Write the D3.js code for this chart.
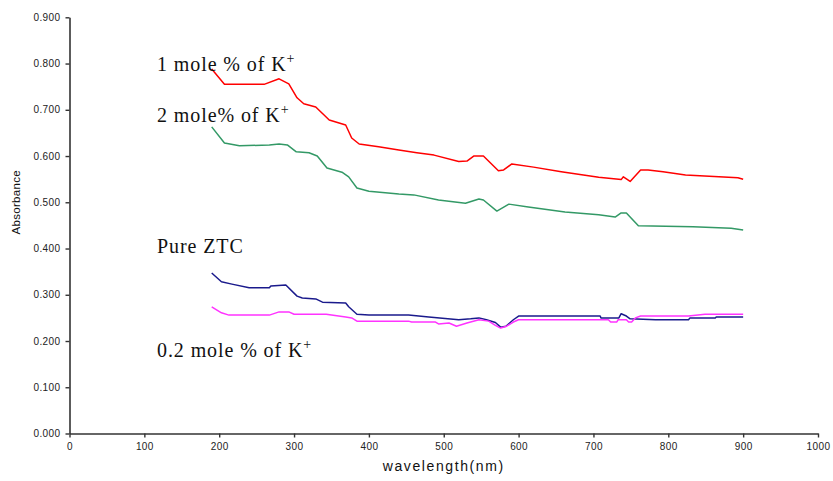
<!DOCTYPE html>
<html>
<head>
<meta charset="utf-8">
<script src="https://cdn.jsdelivr.net/npm/d3@7"></script>
<style>
  html, body { margin: 0; padding: 0; background: #fff; }
  svg { display: block; }
</style>
</head>
<body>
<svg id="chart" width="833" height="481"></svg>
<script>
// ---------- data ----------
const xTicks = [0, 100, 200, 300, 400, 500, 600, 700, 800, 900, 1000];
const yTicks = [0, 0.1, 0.2, 0.3, 0.4, 0.5, 0.6, 0.7, 0.8, 0.9];

const seriesNames = ["1 mole % of K", "2 mole% of K", "Pure ZTC", "0.2 mole % of K"];

const wl1 = [190,207,260,280,293,304,313,329,347,369,377,387,413,440,464,487,520,531,540,553,573,580,591,620,657,707,737,740,749,763,773,793,823,893,900];
const abs1 = [0.788,0.755,0.755,0.767,0.756,0.726,0.713,0.706,0.678,0.667,0.639,0.626,0.620,0.613,0.607,0.602,0.588,0.589,0.600,0.600,0.568,0.570,0.583,0.576,0.566,0.554,0.549,0.555,0.545,0.570,0.570,0.566,0.559,0.553,0.550];

const wl2 = [190,207,227,267,280,291,303,320,331,344,364,373,384,400,440,460,493,529,547,553,571,587,613,662,707,729,737,744,760,833,884,900];
const abs2 = [0.663,0.628,0.622,0.624,0.626,0.624,0.609,0.607,0.600,0.574,0.565,0.555,0.531,0.524,0.518,0.516,0.505,0.498,0.507,0.505,0.481,0.496,0.490,0.479,0.473,0.468,0.477,0.477,0.449,0.447,0.444,0.440];

const wlPure = [190,203,217,240,267,269,289,304,311,329,338,369,373,384,400,453,480,520,536,547,557,569,576,583,593,600,709,710,734,737,744,749,783,827,829,863,864,900];
const absPure = [0.347,0.328,0.323,0.315,0.315,0.319,0.321,0.297,0.293,0.291,0.284,0.282,0.274,0.258,0.256,0.256,0.252,0.246,0.248,0.250,0.246,0.240,0.230,0.232,0.246,0.254,0.254,0.250,0.250,0.259,0.254,0.248,0.246,0.246,0.250,0.250,0.252,0.252];

const wl02 = [190,203,213,267,280,293,300,343,369,377,384,453,457,489,493,507,517,531,547,560,569,576,584,593,600,720,723,731,733,744,747,751,756,763,827,849,900];
const abs02 = [0.274,0.261,0.256,0.256,0.263,0.263,0.258,0.258,0.252,0.250,0.243,0.243,0.241,0.241,0.237,0.239,0.232,0.239,0.246,0.243,0.234,0.228,0.232,0.241,0.246,0.246,0.241,0.241,0.246,0.246,0.241,0.241,0.250,0.254,0.254,0.258,0.258];

// label anchor values (wavelength, absorbance) for the series annotations
const labelWl = [117, 117, 117, 117];
const labelAbs = [0.784, 0.674, 0.390, 0.165];

// ---------- layout ----------
const svg = d3.select("#chart");
const x = d3.scaleLinear().domain([0, 1000]).range([69.5, 818]);
const y = d3.scaleLinear().domain([0, 0.9]).range([433.5, 17.3]);

const colors = ["#ff0000", "#339966", "#1a1a8c", "#ff33ff"];
const xs = [wl1, wl2, wlPure, wl02];
const ys = [abs1, abs2, absPure, abs02];

// axes
const gx = svg.append("g")
  .attr("transform", `translate(0,${y(0)})`)
  .call(d3.axisBottom(x).tickValues(xTicks).tickSize(4).tickSizeOuter(0).tickPadding(5).tickFormat(d3.format("d")));
const gy = svg.append("g")
  .attr("transform", `translate(${x(0)},0)`)
  .call(d3.axisLeft(y).tickValues(yTicks).tickSize(4).tickSizeOuter(0).tickPadding(5).tickFormat(d3.format(".3f")));

[gx, gy].forEach(g => {
  g.select(".domain").attr("stroke", "#333").attr("stroke-width", 1.6);
  g.selectAll(".tick line").attr("stroke", "#333").attr("stroke-width", 1.4);
  g.selectAll(".tick text")
    .attr("font-family", "Arial, 'Liberation Sans', sans-serif")
    .attr("font-size", 10)
    .attr("letter-spacing", 0.4)
    .attr("fill", "#222");
});

// axis titles
svg.append("text")
  .attr("x", (x(0) + x(1000)) / 2)
  .attr("y", 471)
  .attr("text-anchor", "middle")
  .attr("font-family", "Arial, 'Liberation Sans', sans-serif")
  .attr("font-size", 14)
  .attr("letter-spacing", 1.6)
  .attr("fill", "#111")
  .text("wavelength(nm)");

svg.append("text")
  .attr("transform", `translate(20,${y(0.5)}) rotate(-90)`)
  .attr("text-anchor", "middle")
  .attr("font-family", "Arial, 'Liberation Sans', sans-serif")
  .attr("font-size", 11.5)
  .attr("letter-spacing", 0.3)
  .attr("fill", "#111")
  .text("Absorbance");

// lines
const line = d3.line().x(d => x(d[0])).y(d => y(d[1])).curve(d3.curveLinear);
xs.forEach((xv, i) => {
  const pts = xv.map((w, k) => [w, ys[i][k]]);
  svg.append("path")
    .datum(pts)
    .attr("fill", "none")
    .attr("stroke", colors[i])
    .attr("stroke-width", 1.5)
    .attr("stroke-linejoin", "round")
    .attr("d", line);
});

// series annotations
seriesNames.forEach((name, i) => {
  const t = svg.append("text")
    .attr("x", x(labelWl[i]))
    .attr("y", y(labelAbs[i]))
    .attr("font-family", "'Liberation Serif', 'Times New Roman', serif")
    .attr("font-size", 20)
    .attr("letter-spacing", 0.9)
    .attr("fill", "#111");
  t.append("tspan").text(name);
  if (name !== "Pure ZTC") {
    t.append("tspan").attr("font-size", 14).attr("dy", -8).text("+");
  }
});
</script>
</body>
</html>
